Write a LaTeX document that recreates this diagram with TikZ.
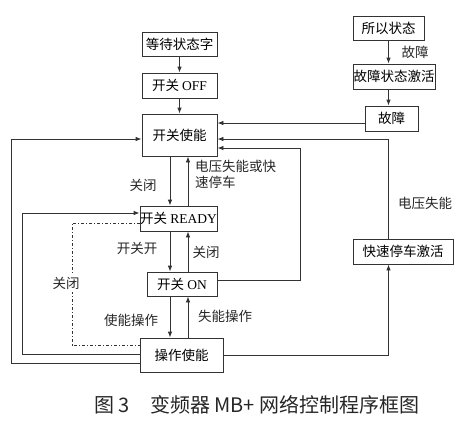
\documentclass[tikz,border=0pt]{standalone}
\usepackage{fontspec}
\setmainfont{Liberation Serif}
\newfontfamily\cjk{Noto Sans CJK SC}
\usepackage{tikz}
\usetikzlibrary{arrows.meta}

\tikzset{
  stbox/.style={draw=black!80, line width=0.8pt, inner sep=0pt, anchor=center,
    font=\cjk\fontsize{13.5}{16}\selectfont},
  arr/.style={draw=black!80, -{Latex[length=6pt,width=4.5pt]}, line width=0.8pt},
  lab/.style={black!85, inner sep=1pt, font=\cjk\fontsize{13.5}{16}\selectfont},
}

\begin{document}
\begin{tikzpicture}[x=1pt, y=-1pt]
			\useasboundingbox (0,0) rectangle (473,420);
			% left column
			\node[stbox, minimum width=75, minimum height=24] (wait) at (179.5,44) {等待状态字};
			\node[stbox, minimum width=75, minimum height=25] (off) at (179.5,85.5) {开关 {\rmfamily OFF}};
			\node[stbox, minimum width=75, minimum height=42] (enable) at (179.5,135) {开关使能};
			\node[stbox, minimum width=77, minimum height=25] (ready) at (178.5,218.5) {开关 {\rmfamily READY}};
			\node[stbox, minimum width=70, minimum height=24] (on) at (182,284) {开关 {\rmfamily ON}};
			\node[stbox, minimum width=83, minimum height=34] (oper) at (181.5,355) {操作使能};
			% right column
			\node[stbox, minimum width=71, minimum height=24] (all) at (388.5,28) {所以状态};
			\node[stbox, minimum width=82, minimum height=25] (faultact) at (394,76.5) {故障状态激活};
			\node[stbox, minimum width=53, minimum height=25] (fault) at (391.5,118.5) {故障};
			\node[stbox, minimum width=100, minimum height=25] (qstop) at (403,251.5) {快速停车激活};
			\coordinate (dn) at (170,0);
			\coordinate (up) at (188,0);
			\coordinate (rx) at (388.5,0);
			% main chain
			\draw[arr] (wait.south) -- (off.north);
			\draw[arr] (off.south) -- (enable.north);
			\draw[arr] (enable.south -| dn) -- (ready.north -| dn);
			\draw[arr] (ready.north -| up) -- (enable.south -| up);
			\draw[arr] (ready.south -| dn) -- (on.north -| dn);
			\draw[arr] (on.north -| up) -- (ready.south -| up);
			\draw[arr] (on.south -| dn) -- (oper.north -| dn);
			\draw[arr] (oper.north -| up) -- (on.south -| up);
			% fault branch
			\draw[arr] (all.south -| rx) -- (faultact.north -| rx);
			\draw[arr] (faultact.south -| rx) -- (fault.north -| rx);
			\draw[arr] (fault.west |- 0,123) -- (enable.east |- 0,123);
			\draw[arr] (qstop.north -| rx) |- (enable.east |- 0,139);
			\draw[arr] (on.east |- 0,280) -| (300,148) -- (enable.east |- 0,148);
			\draw[arr] (oper.east) -| (qstop.south -| rx);
			% return loops
			\draw[arr] (oper.west |- 0,354) -| (22,213) -- (ready.west |- 0,213);
			\draw[arr] (oper.west |- 0,363) -| (11,139) -- (enable.west |- 0,139);
			\draw[draw=black!80, line width=0.8pt, dash pattern=on 3pt off 2pt on 1pt off 2pt] (ready.west |- 0,223) -| (72,345) -- (oper.west |- 0,345);
			% labels
			\node[lab] (l1) at (143,185) {关闭};
			\node[lab, anchor=north west, align=left] (l2) at (194,159) {电压失能或快\\速停车};
			\node[lab] (l3) at (137,248) {开关开};
			\node[lab] (l4) at (206,252) {关闭};
			\node[lab] (l5) at (131,320) {使能操作};
			\node[lab] (l6) at (225,316) {失能操作};
			\node[lab, fill=white, inner ysep=3pt] (l7) at (66,283) {关闭};
			\node[lab] (l8) at (415,52) {故障};
			\node[lab] (l9) at (425,203) {电压失能};
			\node[black!85, font=\cjk\fontsize{20}{24}\selectfont] (cap) at (257,405) {图 3\hspace{1em}变频器 MB+ 网络控制程序框图};
		\end{tikzpicture}
\end{document}
